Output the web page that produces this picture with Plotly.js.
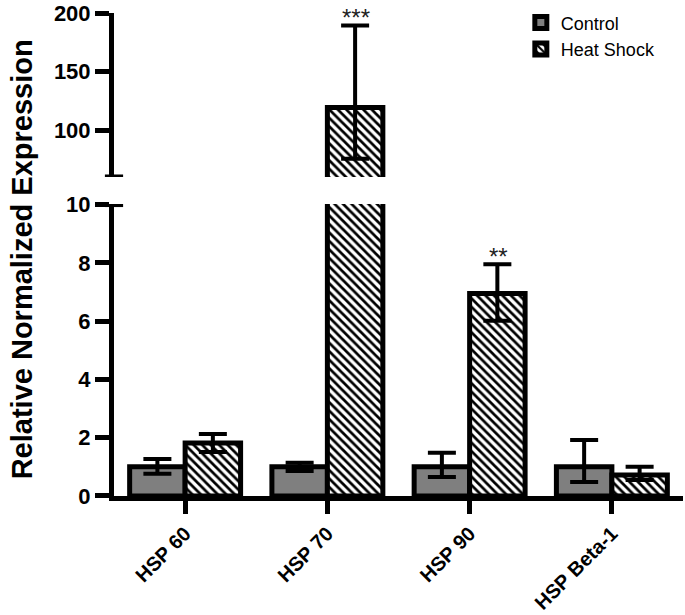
<!DOCTYPE html>
<html>
<head>
<meta charset="utf-8">
<script src="https://cdn.plot.ly/plotly-3.0.1.min.js"></script>
<style>
  body { margin: 0; background: #fff; }
  #plot1 { width: 685px; height: 615px; }
</style>
</head>
<body>
<div id="plot1"></div>
<script>
// Data
const genes = ["HSP 60", "HSP 70", "HSP 90", "HSP Beta-1"];
const controlMean = [1.0, 1.0, 1.0, 1.0];
const controlErrPlus = [0.27, 0.14, 0.48, 0.92];
const controlErrMinus = [0.24, 0.14, 0.35, 0.52];
const heatMean = [1.82, 119.5, 6.95, 0.72];
const heatErrPlus = [0.31, 70, 1.0, 0.28];
const heatErrMinus = [0.31, 44, 0.94, 0.17];
const sigLabels = ["", "***", "**", ""];

const FONT = "Liberation Sans, Arial, sans-serif";

function makeTrace(name, y, plus, minus, yaxis, isHeat, show) {
  return {
    x: genes,
    y: y,
    name: name,
    type: "bar",
    yaxis: yaxis,
    showlegend: show,
    marker: {
      color: isHeat ? "#ffffff" : "#7f7f7f",
      line: { color: "#000", width: 5 },
      pattern: isHeat ? { shape: "\\", fgcolor: "#000", bgcolor: "#fff", size: 6, solidity: 0.45 } : undefined,
    },
    error_y: {
      type: "data",
      symmetric: false,
      array: plus,
      arrayminus: minus,
      color: "#000",
      thickness: 4,
      width: 14,
    },
    hoverinfo: "skip",
  };
}

// lower panel (0-10) and upper panel (60-200) of the broken axis
const traces = [
  makeTrace("Control", controlMean, controlErrPlus, controlErrMinus, "y", false, true),
  makeTrace("Heat Shock", heatMean, heatErrPlus, heatErrMinus, "y", true, true),
  makeTrace("Control", controlMean, controlErrPlus, controlErrMinus, "y2", false, false),
  makeTrace("Heat Shock", heatMean, heatErrPlus, heatErrMinus, "y2", true, false),
];

// significance stars above the heat shock error bars
const annotations = [];
genes.forEach((g, i) => {
  if (!sigLabels[i]) return;
  const top = heatMean[i] + heatErrPlus[i];
  annotations.push({
    x: g, xref: "x",
    y: top, yref: top > 10 ? "y2" : "y",
    text: sigLabels[i],
    showarrow: false,
    xshift: 29, yshift: 8,
    yanchor: "middle",
    font: { family: FONT, size: 24, color: "#222" },
  });
});
annotations.push({
  text: "<b>Relative Normalized Expression</b>",
  xref: "paper", yref: "paper",
  x: 0, y: 0.49, xshift: -92,
  xanchor: "center", yanchor: "middle",
  textangle: -90,
  showarrow: false,
  font: { family: FONT, size: 29, color: "#000" },
});

const axisY = {
  showgrid: false,
  zeroline: false,
  showline: true,
  linecolor: "#000",
  linewidth: 5,
  ticks: "outside",
  ticklen: 14,
  tickwidth: 5,
  tickcolor: "#000",
  tickfont: { family: FONT, size: 22, color: "#000", weight: "bold" },
  ticklabeloverflow: "allow",
  anchor: "x",
};

const layout = {
  width: 685,
  height: 615,
  margin: { l: 114, r: 2, t: 13, b: 119 },
  paper_bgcolor: "#fff",
  plot_bgcolor: "#fff",
  barmode: "group",
  bargap: 0.22,
  bargroupgap: 0,
  font: { family: FONT, color: "#000" },
  showlegend: true,
  legend: {
    x: 0.715, y: 1.018, xanchor: "left", yanchor: "top",
    font: { family: FONT, size: 18, color: "#000" },
    bgcolor: "rgba(0,0,0,0)",
    tracegroupgap: 4,
  },
  xaxis: {
    showgrid: false,
    zeroline: false,
    showline: true,
    linecolor: "#000",
    linewidth: 5,
    ticks: "outside",
    ticklen: 13,
    tickwidth: 5,
    tickcolor: "#000",
    tickangle: -45,
    tickfont: { family: FONT, size: 20, color: "#000", weight: "bold" },
    anchor: "y",
  },
  yaxis: Object.assign({}, axisY, {
    domain: [0, 0.6046],
    range: [0, 10.02],
    tickvals: [0, 2, 4, 6, 8, 10],
  }),
  yaxis2: Object.assign({}, axisY, {
    domain: [0.6605, 1],
    range: [60, 200.3],
    tickvals: [100, 150, 200],
  }),
  shapes: [
    // caps at the axis break
    { type: "line", xref: "paper", yref: "y2", x0: -0.016, x1: 0.016, y0: 60, y1: 60, line: { color: "#000", width: 5 } },
    { type: "line", xref: "paper", yref: "y", x0: -0.016, x1: 0.016, y0: 10, y1: 10, line: { color: "#000", width: 5 } },
  ],
  annotations: annotations,
};

Plotly.newPlot("plot1", traces, layout, { displayModeBar: false, staticPlot: true });
</script>
</body>
</html>
